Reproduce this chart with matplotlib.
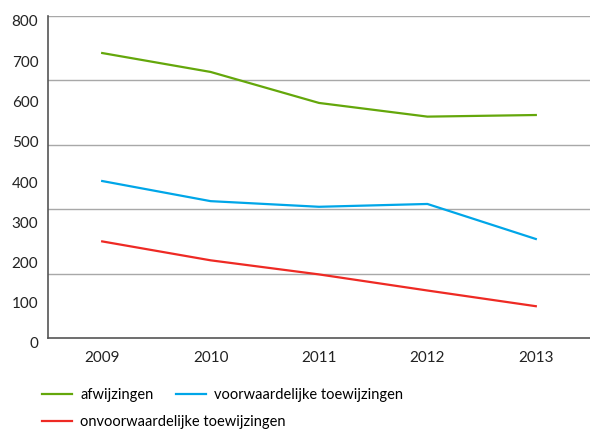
import matplotlib.pyplot as plt
import matplotlib.transforms as mtransforms

plt.rcParams['font.family'] = ['Lato', 'DejaVu Sans']

jaren = ['2009', '2010', '2011', '2012', '2013']
afwijzingen = [708, 661, 584, 550, 554]
voorwaardelijk = [390, 340, 326, 333, 246]
onvoorwaardelijk = [240, 193, 158, 118, 79]

fig = plt.figure(figsize=(5.9, 4.32), dpi=100)
ax = fig.add_axes([48 / 590, 1 - 338 / 432, 1 - 48 / 590, 322 / 432])

x = range(len(jaren))
l1, = ax.plot(x, afwijzingen, color='#64a70b', lw=1.6, label='afwijzingen')
l2, = ax.plot(x, voorwaardelijk, color='#00a6e8', lw=1.6,
              label='voorwaardelijke toewijzingen')
l3, = ax.plot(x, onvoorwaardelijk, color='#ee2a24', lw=1.6,
              label='onvoorwaardelijke toewijzingen')

ax.set_xlim(-0.5, 4.5)
ax.set_ylim(0, 800)

# rasterlijnen om de 160, labels om de 100
for g in range(160, 801, 160):
    ax.axhline(g, color='#a8a8a8', lw=1, zorder=0)

ax.set_yticks(range(0, 801, 100))
ax.set_xticks(list(x))
ax.set_xticklabels(jaren)
ax.tick_params(axis='both', length=0, labelsize=11, colors='#222222')
ax.tick_params(axis='y', pad=7)
ax.tick_params(axis='x', pad=9)

# labels staan in het origineel iets lager dan de waarde
offset = mtransforms.ScaledTranslation(0, -5 / 100, fig.dpi_scale_trans)
for lab in ax.get_yticklabels():
    lab.set_transform(lab.get_transform() + offset)

for side in ('top', 'right'):
    ax.spines[side].set_visible(False)
for side in ('left', 'bottom'):
    ax.spines[side].set_color('#555555')
    ax.spines[side].set_linewidth(1.2)

legenda = dict(loc='center left', frameon=False, fontsize=10.5,
               handlelength=2.06, handletextpad=0.55, borderpad=0,
               borderaxespad=0, columnspacing=1.58)
fig.legend([l1, l2], [l1.get_label(), l2.get_label()], ncol=2,
           bbox_to_anchor=(42 / 590, 1 - 395 / 432), **legenda)
fig.legend([l3], [l3.get_label()],
           bbox_to_anchor=(42 / 590, 1 - 422 / 432), **legenda)

fig.savefig('out.png', dpi=100)
